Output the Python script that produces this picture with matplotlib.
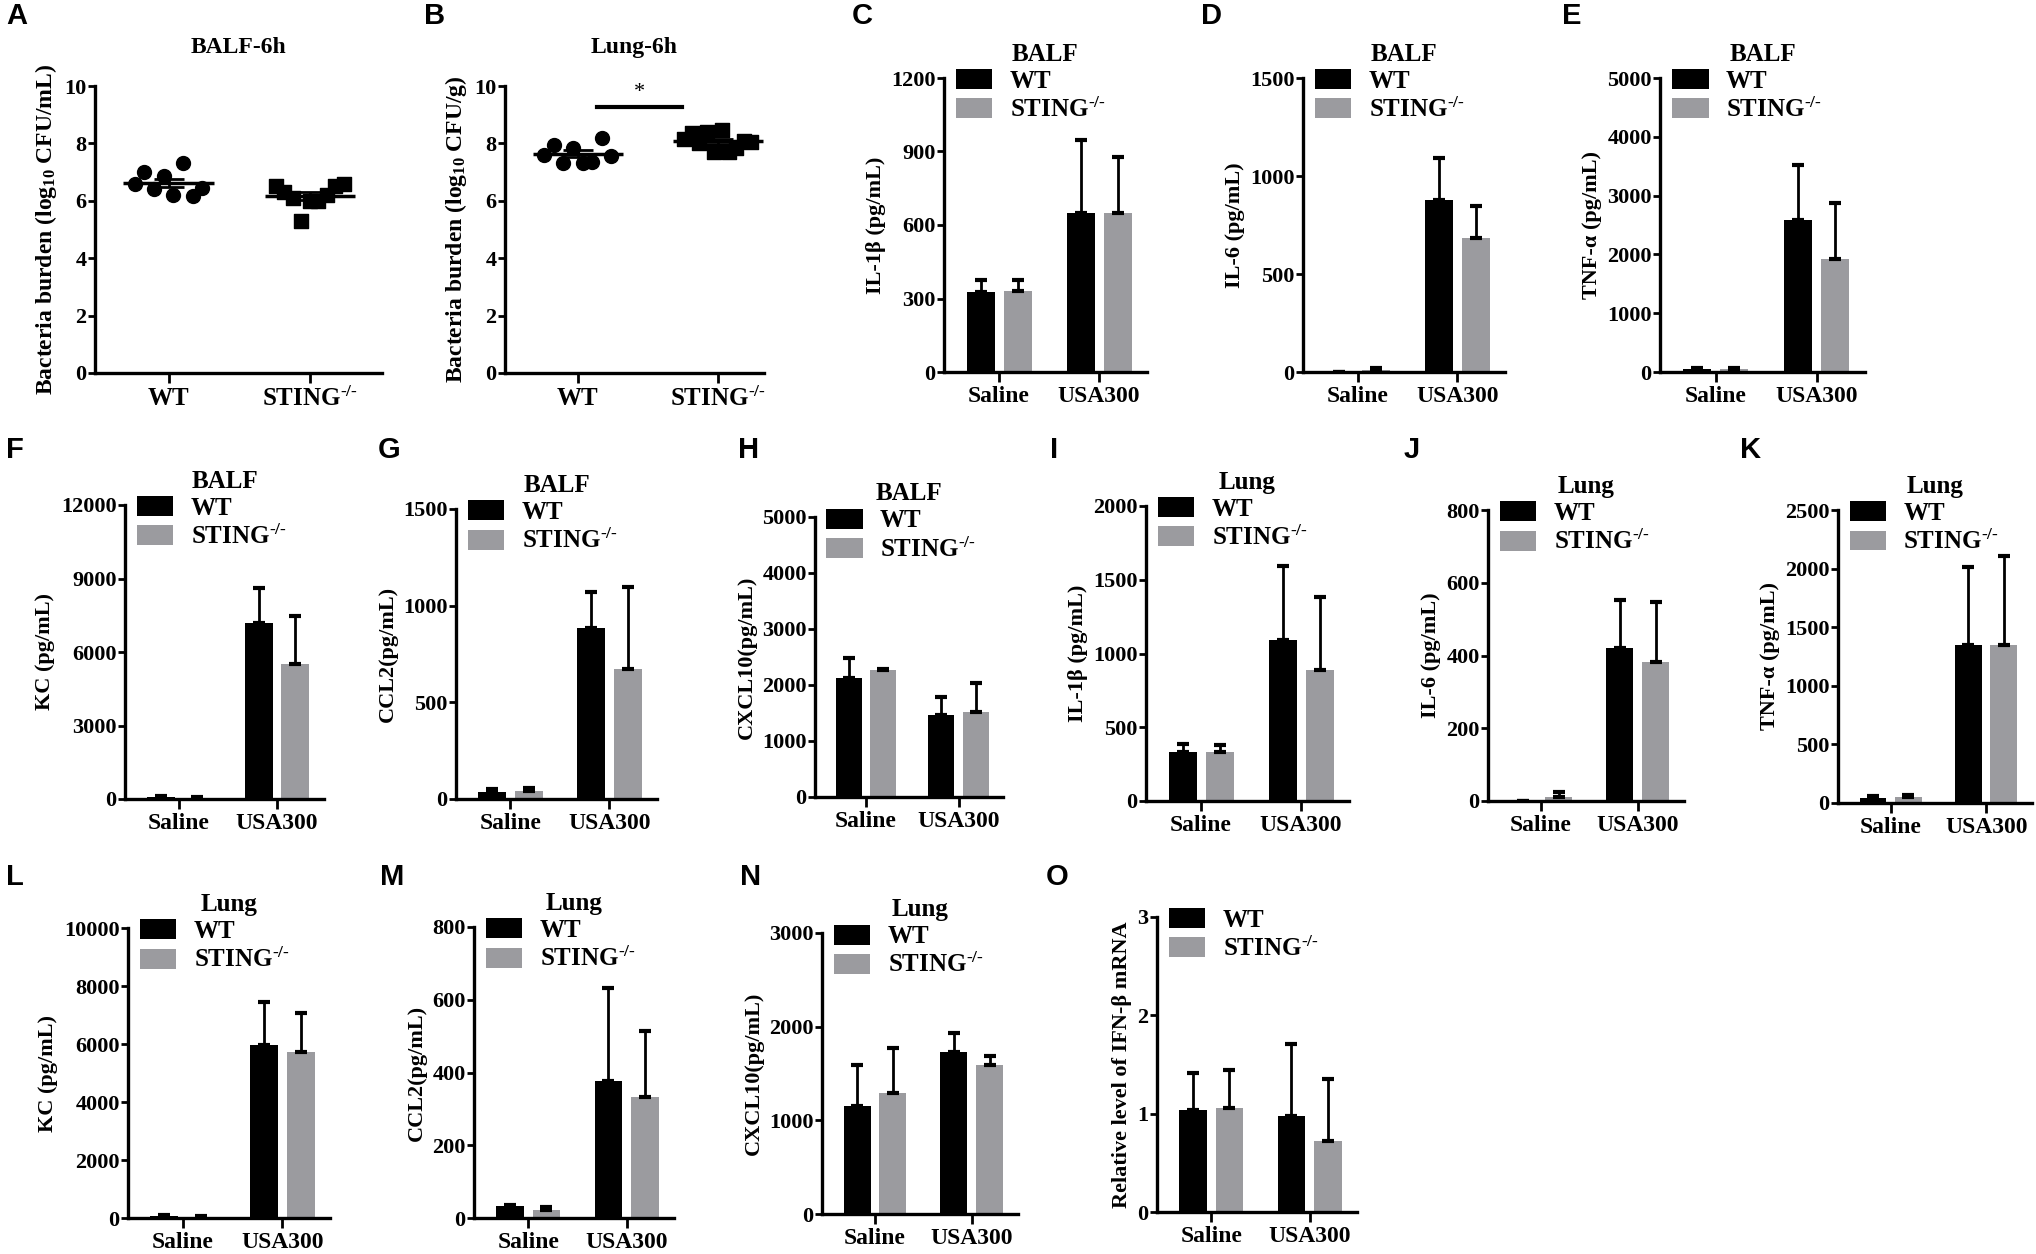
import matplotlib
matplotlib.use("Agg")
import matplotlib.pyplot as plt
import numpy as np

plt.rcParams['font.family'] = ['Liberation Serif', 'DejaVu Serif']
plt.rcParams['font.weight'] = 'bold'
plt.rcParams['mathtext.fontset'] = 'custom'
plt.rcParams['mathtext.rm'] = 'Liberation Serif:bold'
plt.rcParams['mathtext.it'] = 'Liberation Serif:italic:bold'
plt.rcParams['mathtext.bf'] = 'Liberation Serif:bold'

W, H = 2036, 1254
GRAY = '#9b9b9f'

# ---- data ----
genotypes = ["WT", "STING$^{\u2010/\u2010}$"]
groups = ["Saline", "USA300"]

# bacteria burden, log10 CFU
balf_wt = [6.6, 7.0, 6.4, 6.85, 6.2, 7.3, 6.15, 6.45]
balf_ko = [6.5, 6.3, 6.1, 5.3, 6.0, 6.0, 6.2, 6.5, 6.6]
lung_wt = [7.6, 7.95, 7.3, 7.85, 7.3, 7.35, 8.2, 7.55]
lung_ko = [8.15, 8.35, 8.0, 8.4, 7.7, 8.45, 7.7, 7.85, 8.1, 8.05]

# cytokines: mean and SD (Saline, USA300)
il1b_balf_wt, il1b_balf_wt_sd = [325, 650], [51, 298]
il1b_balf_ko, il1b_balf_ko_sd = [332, 650], [44, 227]
il6_balf_wt, il6_balf_wt_sd = [0, 877], [0, 216]
il6_balf_ko, il6_balf_ko_sd = [8, 682], [13, 166]
tnf_balf_wt, tnf_balf_wt_sd = [50, 2580], [15, 940]
tnf_balf_ko, tnf_balf_ko_sd = [50, 1930], [15, 950]
kc_balf_wt, kc_balf_wt_sd = [80, 7200], [30, 1420]
kc_balf_ko, kc_balf_ko_sd = [60, 5530], [20, 1930]
ccl2_balf_wt, ccl2_balf_wt_sd = [38, 884], [14, 187]
ccl2_balf_ko, ccl2_balf_ko_sd = [42, 672], [17, 427]
cxcl10_balf_wt, cxcl10_balf_wt_sd = [2130, 1465], [360, 315]
cxcl10_balf_ko, cxcl10_balf_ko_sd = [2260, 1510], [25, 520]
il1b_lung_wt, il1b_lung_wt_sd = [330, 1090], [55, 505]
il1b_lung_ko, il1b_lung_ko_sd = [333, 890], [45, 495]
il6_lung_wt, il6_lung_wt_sd = [0, 421], [0, 132]
il6_lung_ko, il6_lung_ko_sd = [12, 383], [13, 164]
tnf_lung_wt, tnf_lung_wt_sd = [43, 1350], [15, 665]
tnf_lung_ko, tnf_lung_ko_sd = [55, 1350], [10, 760]
kc_lung_wt, kc_lung_wt_sd = [60, 5950], [30, 1490]
kc_lung_ko, kc_lung_ko_sd = [50, 5740], [30, 1330]
ccl2_lung_wt, ccl2_lung_wt_sd = [32, 378], [4, 254]
ccl2_lung_ko, ccl2_lung_ko_sd = [23, 334], [6, 180]
cxcl10_lung_wt, cxcl10_lung_wt_sd = [1150, 1725], [445, 205]
cxcl10_lung_ko, cxcl10_lung_ko_sd = [1290, 1590], [480, 100]
ifnb_wt, ifnb_wt_sd = [1.04, 0.98], [0.37, 0.73]
ifnb_ko, ifnb_ko_sd = [1.06, 0.72], [0.38, 0.63]


fig = plt.figure(figsize=(W / 100, H / 100), dpi=100)


def place(l, r, t, b):
    # pixel box -> figure fraction
    return fig.add_axes([l / W, 1 - b / H, (r - l) / W, (b - t) / H])


def style(ax, ymax, step):
    for s in ['top', 'right']:
        ax.spines[s].set_visible(False)
    for s in ['left', 'bottom']:
        ax.spines[s].set_linewidth(2.4)
    ax.set_ylim(0, ymax)
    ax.set_yticks(np.arange(0, ymax + step / 2, step))
    ax.tick_params(axis='y', length=5, width=2, labelsize=16, pad=1)
    ax.tick_params(axis='x', length=7, width=2, labelsize=17, pad=3)


def dot_panel(ax, title, ylabel, wt_pts, ko_pts, xmax):
    for i, (pts, mk) in enumerate([(wt_pts, 'o'), (ko_pts, 's')]):
        pts = np.asarray(pts)
        xs = i + np.linspace(-0.24, 0.24, len(pts))
        ax.scatter(xs, pts, marker=mk, s=100, color='black', zorder=3, clip_on=False)
        m = pts.mean()
        se = pts.std(ddof=1) / np.sqrt(len(pts))
        ax.hlines(m, i - 0.32, i + 0.32, color='black', lw=2.5, zorder=4)
        ax.errorbar(i, m, yerr=se, fmt='none', ecolor='black', elinewidth=2,
                    capsize=11, capthick=2, zorder=4)
    ax.set_xlim(-0.52, xmax)
    ax.set_xticks([0, 1])
    ax.set_xticklabels(genotypes)
    style(ax, 10, 2)
    ax.tick_params(axis='x', labelsize=18)
    ax.set_title(title, fontsize=17, fontweight='bold', pad=24)
    ax.set_ylabel(ylabel, fontsize=17, fontweight='bold', labelpad=4)


def bar_panel(ax, title, ylabel, ymax, step, wt, wt_sd, ko, ko_sd):
    x = np.arange(len(groups))
    for off, m, sd, c, lab in [(-0.185, wt, wt_sd, 'black', genotypes[0]),
                               (0.185, ko, ko_sd, GRAY, genotypes[1])]:
        ax.bar(x + off, m, width=0.28, color=c, label=lab, zorder=2)
        ax.errorbar(x + off, m, yerr=[np.zeros(len(m)), sd], fmt='none',
                    ecolor='black', elinewidth=2, capsize=4, capthick=3, zorder=3)
    ax.set_xlim(-0.55, 1.48)
    ax.set_xticks(x)
    ax.set_xticklabels(groups)
    style(ax, ymax, step)
    if title:
        ax.set_title(title, fontsize=18, fontweight='bold', pad=12)
    ax.set_ylabel(ylabel, fontsize=16, fontweight='bold', labelpad=4)
    ax.legend(loc='upper left', bbox_to_anchor=(0.06, 1.03), frameon=False,
              fontsize=18, handlelength=1.45, handleheight=0.85, handletextpad=0.7,
              labelspacing=0.2, borderpad=0, borderaxespad=0)


# ---- row 1 ----
axA = place(95, 382, 86, 373)
dot_panel(axA, "BALF-6h", "Bacteria burden (log$_{10}$ CFU/mL)", balf_wt, balf_ko, 1.51)
axB = place(505, 764, 86, 373)
dot_panel(axB, "Lung-6h", "Bacteria burden (log$_{10}$ CFU/g)", lung_wt, lung_ko, 1.33)
axB.plot([0.14, 0.745], [9.27, 9.27], color='black', lw=3)
axB.text(0.44, 9.45, '*', fontsize=16, ha='center', va='bottom', fontweight='normal')

bar_panel(place(944, 1147, 78, 372), "BALF", "IL-1β (pg/mL)", 1200, 300,
          il1b_balf_wt, il1b_balf_wt_sd, il1b_balf_ko, il1b_balf_ko_sd)
bar_panel(place(1303, 1505, 78, 372), "BALF", "IL-6 (pg/mL)", 1500, 500,
          il6_balf_wt, il6_balf_wt_sd, il6_balf_ko, il6_balf_ko_sd)
bar_panel(place(1660, 1865, 78, 372), "BALF", "TNF-α (pg/mL)", 5000, 1000,
          tnf_balf_wt, tnf_balf_wt_sd, tnf_balf_ko, tnf_balf_ko_sd)

# ---- row 2 ----
bar_panel(place(125, 324, 505, 799), "BALF", "KC (pg/mL)", 12000, 3000,
          kc_balf_wt, kc_balf_wt_sd, kc_balf_ko, kc_balf_ko_sd)
bar_panel(place(456, 657, 509, 799), "BALF", "CCL2(pg/mL)", 1500, 500,
          ccl2_balf_wt, ccl2_balf_wt_sd, ccl2_balf_ko, ccl2_balf_ko_sd)
bar_panel(place(815, 1003, 517, 797), "BALF", "CXCL10(pg/mL)", 5000, 1000,
          cxcl10_balf_wt, cxcl10_balf_wt_sd, cxcl10_balf_ko, cxcl10_balf_ko_sd)
bar_panel(place(1146, 1349, 506, 801), "Lung", "IL-1β (pg/mL)", 2000, 500,
          il1b_lung_wt, il1b_lung_wt_sd, il1b_lung_ko, il1b_lung_ko_sd)
bar_panel(place(1488, 1684, 510, 801), "Lung", "IL-6 (pg/mL)", 800, 200,
          il6_lung_wt, il6_lung_wt_sd, il6_lung_ko, il6_lung_ko_sd)
bar_panel(place(1838, 2032, 510, 803), "Lung", "TNF-α (pg/mL)", 2500, 500,
          tnf_lung_wt, tnf_lung_wt_sd, tnf_lung_ko, tnf_lung_ko_sd)

# ---- row 3 ----
bar_panel(place(128, 330, 928, 1218), "Lung", "KC (pg/mL)", 10000, 2000,
          kc_lung_wt, kc_lung_wt_sd, kc_lung_ko, kc_lung_ko_sd)
bar_panel(place(474, 674, 927, 1218), "Lung", "CCL2(pg/mL)", 800, 200,
          ccl2_lung_wt, ccl2_lung_wt_sd, ccl2_lung_ko, ccl2_lung_ko_sd)
bar_panel(place(822, 1018, 933, 1214), "Lung", "CXCL10(pg/mL)", 3000, 1000,
          cxcl10_lung_wt, cxcl10_lung_wt_sd, cxcl10_lung_ko, cxcl10_lung_ko_sd)
bar_panel(place(1157, 1357, 917, 1212), None, "Relative level of IFN-β mRNA", 3, 1,
          ifnb_wt, ifnb_wt_sd, ifnb_ko, ifnb_ko_sd)

# panel letters
letters = [("A", 6, 16), ("B", 424, 16), ("C", 852, 16), ("D", 1201, 16), ("E", 1562, 16),
           ("F", 6, 450), ("G", 378, 450), ("H", 738, 450), ("I", 1050, 450),
           ("J", 1404, 450), ("K", 1740, 450),
           ("L", 6, 877), ("M", 380, 877), ("N", 740, 877), ("O", 1046, 877)]
for s, px, py in letters:
    fig.text(px / W, 1 - py / H, s, fontsize=21, fontweight='bold',
             family=['Liberation Sans', 'DejaVu Sans'], ha='left', va='center')

fig.savefig("out.png", dpi=100)
